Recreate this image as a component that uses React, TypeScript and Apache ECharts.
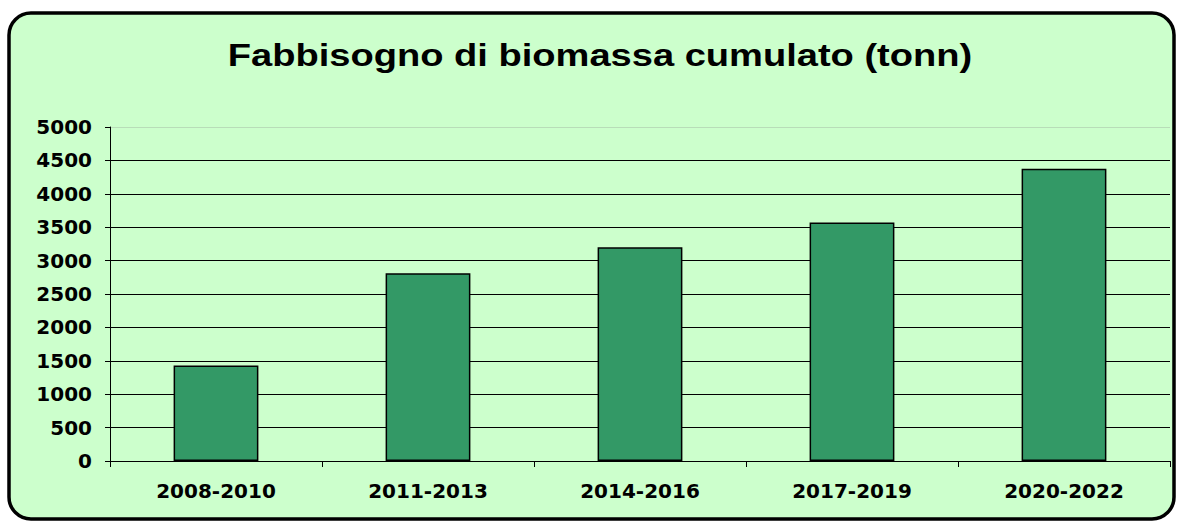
import React, { useEffect, useRef } from "react";
import * as echarts from "echarts";

const categories = ["2008-2010", "2011-2013", "2014-2016", "2017-2019", "2020-2022"];
const values = [1430, 2810, 3200, 3570, 4375];
const titleText = "Fabbisogno di biomassa cumulato (tonn)";
const yMin = 0;
const yMax = 5000;
const yInterval = 500;

export default function App() {
  const ref = useRef<HTMLDivElement>(null);
  useEffect(() => {
    if (!ref.current) return;
    const chart = echarts.init(ref.current, null, { renderer: "svg" });
    const gridColors = ["#000", "#000", "#000", "#000", "#000", "#000", "#000", "#000", "#000", "#000", "#b8ddb8"];
    const labelFont = {
      fontFamily: "DejaVu Sans, sans-serif",
      fontWeight: "bold",
      fontSize: 20,
      color: "#000",
    };
    chart.setOption({
      animation: false,
      backgroundColor: "#ffffff",
      graphic: [
        {
          type: "rect",
          shape: { x: 9, y: 13, width: 1165, height: 506, r: 22 },
          style: { fill: "#CCFFCC", stroke: "#000", lineWidth: 3.5 },
          z: -10,
        },
        {
          type: "text",
          x: 600,
          y: 55,
          scaleX: 1.19,
          style: {
            text: titleText,
            font: "bold 32px 'Liberation Sans', Arial, sans-serif",
            fill: "#000",
            textAlign: "center",
            textVerticalAlign: "middle",
          },
        },
      ],
      grid: { left: 110, right: 8, top: 127, bottom: 61 },
      xAxis: {
        type: "category",
        data: categories,
        axisLine: { lineStyle: { color: "#000", width: 1 } },
        axisTick: { show: true, length: 6, lineStyle: { color: "#000" } },
        axisLabel: { ...labelFont, margin: 20 },
      },
      yAxis: {
        type: "value",
        min: yMin,
        max: yMax,
        interval: yInterval,
        axisLine: { show: true, lineStyle: { color: "#000", width: 1 } },
        axisTick: { show: true, length: 5, lineStyle: { color: "#000" } },
        splitLine: { show: true, lineStyle: { color: gridColors, width: 1 } },
        axisLabel: { ...labelFont, margin: 18, formatter: (v: number) => String(v) },
      },
      series: [
        {
          type: "bar",
          data: values,
          barWidth: "40%",
          itemStyle: { color: "#339966", borderColor: "#000", borderWidth: 1.5 },
        },
      ],
    });
    return () => chart.dispose();
  }, []);
  return (
    <div
      ref={ref}
      style={{ position: "fixed", left: 0, top: 0, width: 1178, height: 522 }}
    />
  );
}
